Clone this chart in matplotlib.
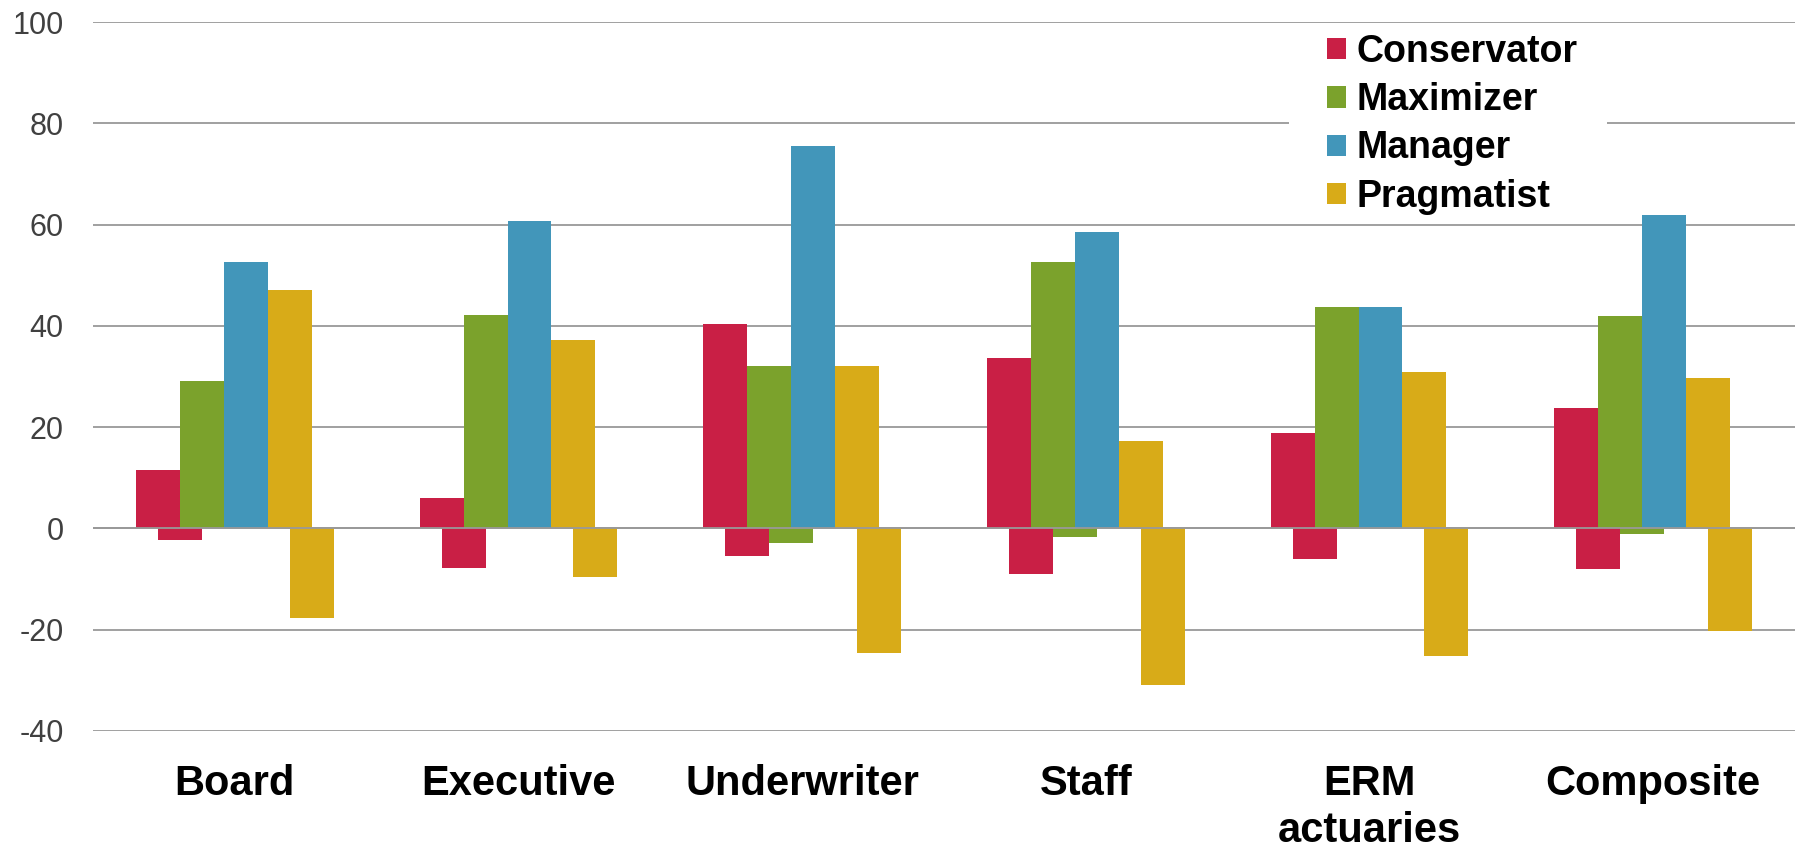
import numpy as np
import matplotlib.pyplot as plt
from matplotlib.patches import Rectangle

plt.rcParams['font.family'] = ['Liberation Sans', 'DejaVu Sans']
plt.rcParams['axes.unicode_minus'] = False

categories = ["Board", "Executive", "Underwriter", "Staff", "ERM\nactuaries", "Composite"]
series = ["Conservator", "Maximizer", "Manager", "Pragmatist"]
colors = ["#C91F45", "#7BA22C", "#4296BA", "#D8AB18"]

# positive and negative scores per series, one value per category
pos_vals = [
    [11.6, 6.1, 40.4, 33.7, 18.8, 23.8],   # Conservator
    [29.2, 42.1, 32.1, 52.6, 43.8, 41.9],  # Maximizer
    [52.6, 60.7, 75.6, 58.6, 43.8, 61.8],  # Manager
    [47.0, 37.3, 32.1, 17.3, 30.8, 29.8],  # Pragmatist
]
neg_vals = [
    [-2.3, -7.9, -5.4, -9.0, -6.1, -8.1],
    [0.0, 0.0, -2.8, -1.6, 0.0, -1.1],
    [0.0, 0.0, 0.0, 0.0, 0.0, 0.0],
    [-17.7, -9.5, -24.5, -31.0, -25.1, -20.2],
]

fig = plt.figure(figsize=(17.97, 8.48), dpi=100)
ax = fig.add_axes([93 / 1797, 1 - 731 / 848, 1702 / 1797, (731 - 22) / 848])

x = np.arange(len(categories))
w = 0.155
for j, (name, col) in enumerate(zip(series, colors)):
    ax.bar(x - 2.25 * w + j * w, pos_vals[j], width=w, align="edge",
           color=col, label=name, zorder=2)
    ax.bar(x - 2.25 * w + (j + 0.5) * w, neg_vals[j], width=w, align="edge",
           color=col, zorder=2)

ax.set_xlim(-0.5, len(categories) - 0.5)
ax.set_ylim(-40, 100)
ax.set_yticks(np.arange(-40, 101, 20))
ax.grid(axis="y", color="#999999", linewidth=1.3)
ax.set_axisbelow(True)
ax.axhline(0, color="#999999", linewidth=1.3, zorder=3)
for s in ax.spines.values():
    s.set_visible(False)

ax.tick_params(axis="y", length=0, pad=21, labelsize=22, labelcolor="#404040")
ax.set_xticks(x)
ax.set_xticklabels(categories, fontsize=30, fontweight="bold", linespacing=1.2)
ax.tick_params(axis="x", length=0, pad=24)

# white box behind the legend hides the gridline
ax.add_patch(Rectangle((1289 / 1797, 1 - 218 / 848), 318 / 1797, 193 / 848,
                       transform=fig.transFigure, facecolor="white",
                       edgecolor="none", zorder=1.5, clip_on=False))
leg = ax.legend(loc="upper left", bbox_to_anchor=(1308 / 1797, 1 - 15 / 848),
                bbox_transform=fig.transFigure, frameon=False,
                prop={"size": 27, "weight": "bold"}, borderpad=0,
                handlelength=0.5, handleheight=0.5, handletextpad=0.3,
                labelspacing=0.33)
leg.set_zorder(5)

fig.savefig("out.png", dpi=100)
